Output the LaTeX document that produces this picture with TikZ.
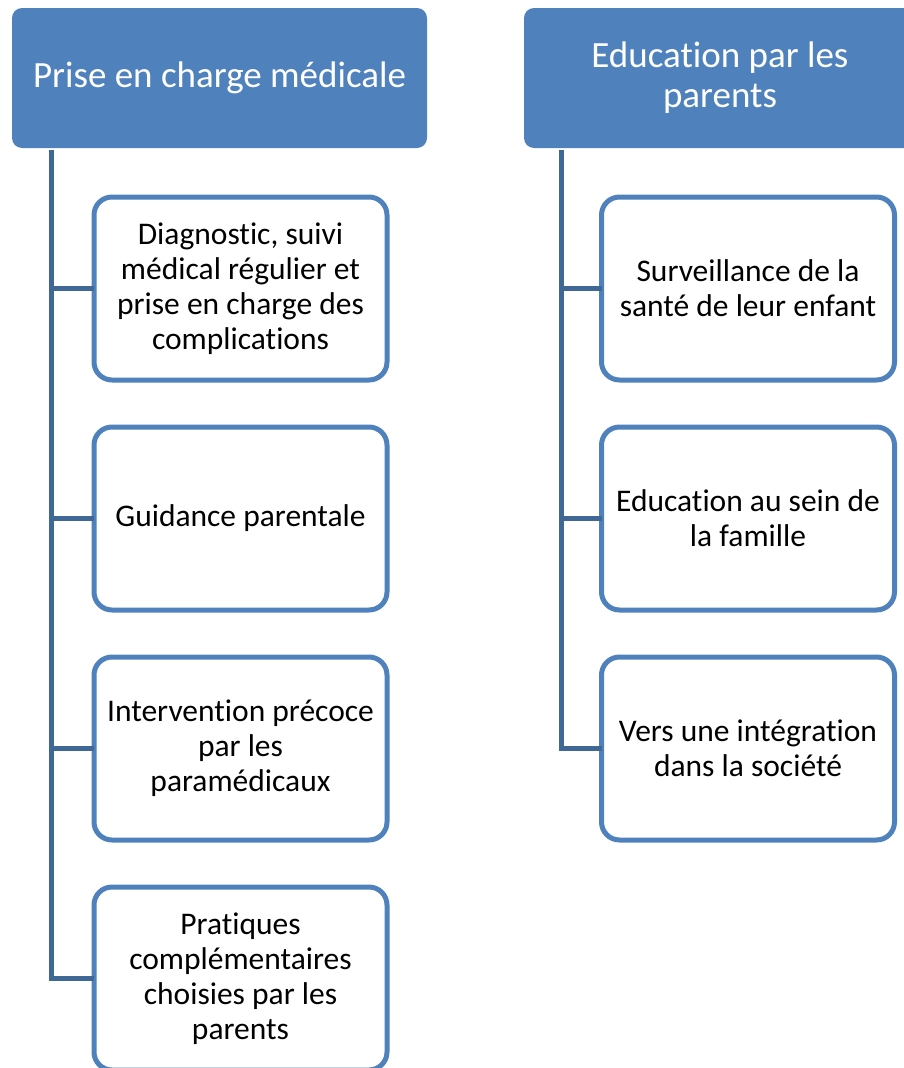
\documentclass[tikz,border=0pt]{standalone}
\usepackage{fontspec}
\setmainfont{Carlito}[Ligatures=NoCommon]
\usetikzlibrary{positioning}
\definecolor{accent}{HTML}{4F81BD}
\definecolor{linkblue}{HTML}{3F6897}

\begin{document}
\begin{tikzpicture}[
    x=1pt, y=1pt,
    node distance=47pt,
    header/.style={rectangle, fill=accent, rounded corners=10pt, minimum height=140pt, text=white, align=center, font=\fontsize{37}{40}\selectfont},
    item/.style={rectangle, draw=accent, line width=5pt, fill=white, rounded corners=18pt, minimum width=293pt, minimum height=183pt, outer sep=0pt, align=center, font=\fontsize{31.5}{35}\selectfont},
    link/.style={draw=linkblue, line width=5pt}
]
\useasboundingbox (0,0) rectangle (904,-1068);

% Headers
\node[header, minimum width=415pt] (medical) at (219.5,-78) {Prise en charge médicale};
\node[header, minimum width=392pt] (parents) at (720,-78) {Education par les\\parents};

% Left column
\node[item] (diag) at (240.5,-288.5) {Diagnostic, suivi\\médical régulier et\\prise en charge des\\complications};
\node[item, below=of diag] (guidance) {Guidance parentale};
\node[item, below=of guidance] (early) {Intervention précoce\\par les\\paramédicaux};
\node[item, below=of early] (practices) {Pratiques\\complémentaires\\choisies par les\\parents};

% Right column
\node[item] (health) at (748,-288.5) {Surveillance de la\\santé de leur enfant};
\node[item, below=of health] (family) {Education au sein de\\la famille};
\node[item, below=of family] (society) {Vers une intégration\\dans la société};

% Spines
\coordinate (spineL) at (51.5,-150);
\coordinate (spineR) at (561,-150);

% Connectors
\foreach \b in {diag,guidance,early,practices}
    \draw[link] (spineL) |- (\b.west);
\foreach \b in {health,family,society}
    \draw[link] (spineR) |- (\b.west);

\end{tikzpicture}
\end{document}
